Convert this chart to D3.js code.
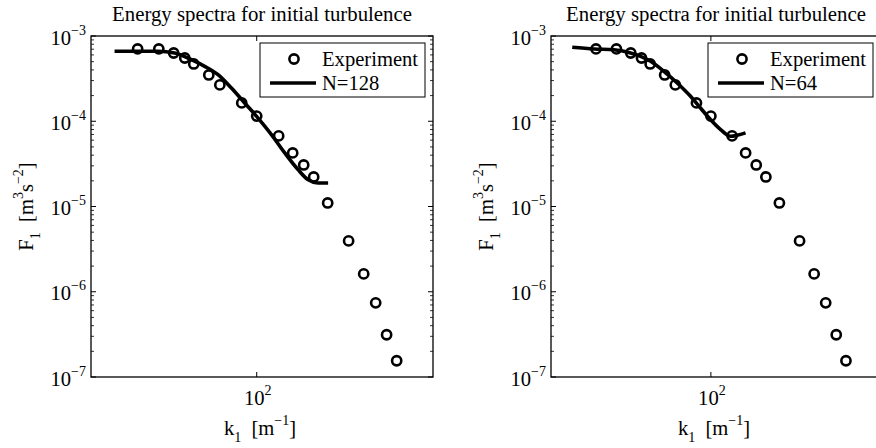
<!DOCTYPE html>
<html>
<head>
<meta charset="utf-8">
<script src="https://cdn.jsdelivr.net/npm/d3@7"></script>
<style>
  body { margin: 0; background: #fff; }
  svg { display: block; font-family: "Liberation Serif", "DejaVu Serif", serif; }
</style>
</head>
<body>
<script>
"use strict";

// experiment: wavenumber k1 [1/m] and spectrum F1 [m^3 s^-2]
const expK = [42.1, 49.1, 54.7, 59.3, 63.3, 70.6, 76.5, 89.7, 100, 117.3, 129.9, 140.7, 151.3, 167.5, 195, 217.6, 237.4, 257, 276.5];
const expF = [7.05e-4, 7.05e-4, 6.32e-4, 5.52e-4, 4.70e-4, 3.49e-4, 2.67e-4, 1.64e-4, 1.15e-4, 6.73e-5, 4.25e-5, 3.07e-5, 2.22e-5, 1.10e-5, 3.95e-6, 1.62e-6, 7.41e-7, 3.13e-7, 1.55e-7];

// simulation N=128
const k128 = [35.6, 42.2, 48.8, 55.1, 62.2, 68.5, 75.5, 83.2, 91.6, 101, 111.3, 122.6, 135, 145, 156, 168];
const F128 = [6.62e-4, 6.62e-4, 6.62e-4, 6.33e-4, 5.27e-4, 4.41e-4, 3.52e-4, 2.45e-4, 1.64e-4, 1.09e-4, 6.97e-5, 4.25e-5, 2.71e-5, 2.07e-5, 1.89e-5, 1.89e-5];

// simulation N=64
const k64 = [35.2, 41.5, 48.2, 54.6, 58.9, 63.5, 70.2, 77.6, 85.8, 92.5, 99.8, 107.6, 116, 121.9, 129.8];
const F64 = [7.37e-4, 7.05e-4, 6.90e-4, 6.32e-4, 5.78e-4, 5.05e-4, 3.85e-4, 2.81e-4, 1.96e-4, 1.43e-4, 1.04e-4, 7.98e-5, 6.67e-5, 6.85e-5, 7.30e-5];

const xTicks = [100];
const yTicks = [1e-3, 1e-4, 1e-5, 1e-6, 1e-7];
const xLimits = [30, 360];
const yLimits = [1e-7, 1e-3];
const titleText = "Energy spectra for initial turbulence";

const W = 876, H = 448;
const FS = 20.6, SS = 14;   // main and sub/superscript font sizes
const svg = d3.select("body").append("svg").attr("width", W).attr("height", H);
svg.append("rect").attr("width", W).attr("height", H).attr("fill", "#fff");

function zip(a, b) { return a.map(function (v, i) { return [v, b[i]]; }); }

function exponent(v) { return Math.round(Math.log10(v)); }

function drawPanel(left, right, simK, simF, simName) {
    const top = 36, bottom = 377;
    const x = d3.scaleLog().domain(xLimits).range([left, right]);
    const y = d3.scaleLog().domain(yLimits).range([bottom, top]);
    const g = svg.append("g");

    // minor ticks on y (both sides, inward)
    let minors = [];
    for (let e = -7; e < -3; e++) {
        for (let m = 2; m <= 9; m++) minors.push(m * Math.pow(10, e));
    }
    g.selectAll(".ymin").data(minors).enter().append("path")
        .attr("d", function (d) {
            return "M" + left + "," + y(d) + "h3M" + right + "," + y(d) + "h-3";
        })
        .attr("stroke", "#000").attr("stroke-width", 0.8);
    g.selectAll(".ymaj").data(yTicks).enter().append("path")
        .attr("d", function (d) {
            return "M" + left + "," + y(d) + "h5M" + right + "," + y(d) + "h-5";
        })
        .attr("stroke", "#000").attr("stroke-width", 1);
    g.selectAll(".xmaj").data(xTicks).enter().append("path")
        .attr("d", function (d) {
            return "M" + x(d) + "," + bottom + "v-5M" + x(d) + "," + top + "v5";
        })
        .attr("stroke", "#000").attr("stroke-width", 1);

    // y tick labels
    const yl = g.selectAll(".ylab").data(yTicks).enter().append("text")
        .attr("x", left - 5).attr("y", function (d) { return y(d) + 8.5; })
        .attr("text-anchor", "end").attr("font-size", FS);
    yl.append("tspan").text("10");
    yl.append("tspan").attr("dy", -10).attr("font-size", SS)
        .text(function (d) { return "\u2212" + Math.abs(exponent(d)); });

    // x tick labels
    const xl = g.selectAll(".xlab").data(xTicks).enter().append("text")
        .attr("x", function (d) { return x(d) + 1; }).attr("y", 405)
        .attr("text-anchor", "middle").attr("font-size", FS);
    xl.append("tspan").text("10");
    xl.append("tspan").attr("dy", -10).attr("font-size", SS)
        .text(function (d) { return exponent(d); });

    // experiment markers
    g.selectAll(".exp").data(zip(expK, expF)).enter().append("circle")
        .attr("cx", function (d) { return x(d[0]); })
        .attr("cy", function (d) { return y(d[1]); })
        .attr("r", 4.6)
        .attr("fill", "none").attr("stroke", "#000").attr("stroke-width", 2.6);

    // simulation line
    const line = d3.line()
        .x(function (d) { return x(d[0]); })
        .y(function (d) { return y(d[1]); })
        .curve(d3.curveMonotoneX);
    g.append("path").datum(zip(simK, simF)).attr("d", line)
        .attr("fill", "none").attr("stroke", "#000").attr("stroke-width", 3.6);

    // box
    g.append("rect").attr("x", left).attr("y", top)
        .attr("width", right - left).attr("height", bottom - top)
        .attr("fill", "none").attr("stroke", "#000").attr("stroke-width", 1.3);

    // title
    g.append("text").attr("x", (left + right) / 2).attr("y", 21)
        .attr("text-anchor", "middle").attr("font-size", 20.8).text(titleText);

    // x label
    const xt = g.append("text").attr("x", (left + right) / 2 - 2).attr("y", 435)
        .attr("text-anchor", "middle").attr("font-size", FS);
    xt.append("tspan").text("k");
    xt.append("tspan").attr("dy", 7).attr("font-size", SS).text("1");
    xt.append("tspan").attr("dy", -7).text("\u00a0\u00a0[m");
    xt.append("tspan").attr("dy", -10).attr("font-size", SS).text("\u22121");
    xt.append("tspan").attr("dy", 10).text("]");

    // y label
    const yt = g.append("text")
        .attr("transform", "translate(" + (left - 58) + "," + ((top + bottom) / 2) + ") rotate(-90)")
        .attr("text-anchor", "middle").attr("font-size", FS);
    yt.append("tspan").text("F");
    yt.append("tspan").attr("dy", 7).attr("font-size", SS).text("1");
    yt.append("tspan").attr("dy", -7).text("\u00a0\u00a0[m");
    yt.append("tspan").attr("dy", -10).attr("font-size", SS).text("3");
    yt.append("tspan").attr("dy", 10).text("s");
    yt.append("tspan").attr("dy", -10).attr("font-size", SS).text("\u22122");
    yt.append("tspan").attr("dy", 10).text("]");

    // legend
    const lg = g.append("g").attr("transform", "translate(" + (right - 173) + ",43)");
    lg.append("rect").attr("width", 165).attr("height", 54)
        .attr("fill", "#fff").attr("stroke", "#000").attr("stroke-width", 1);
    lg.append("circle").attr("cx", 34).attr("cy", 16).attr("r", 4.6)
        .attr("fill", "none").attr("stroke", "#000").attr("stroke-width", 2.6);
    lg.append("text").attr("x", 62).attr("y", 23).attr("font-size", FS).text("Experiment");
    lg.append("line").attr("x1", 10).attr("x2", 56).attr("y1", 40).attr("y2", 40)
        .attr("stroke", "#000").attr("stroke-width", 3.6);
    lg.append("text").attr("x", 62).attr("y", 47).attr("font-size", FS).text(simName);
}

drawPanel(91, 433, k128, F128, "N=128");
drawPanel(551, 881, k64, F64, "N=64");
</script>
</body>
</html>
